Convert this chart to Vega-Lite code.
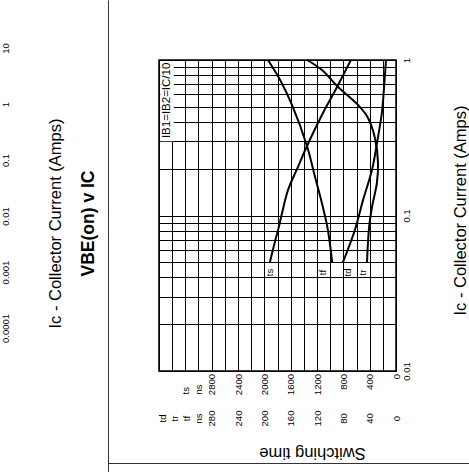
{
  "$schema": "https://vega.github.io/schema/vega-lite/v6.json",
  "width": 237,
  "height": 311,
  "autosize": {"type": "none"},
  "padding": {"left": 159, "top": 60, "right": 73, "bottom": 101},
  "background": "white",
  "config": {
    "font": "Liberation Sans",
    "view": {"stroke": "black", "strokeWidth": 1.5},
    "axis": {"labelFlush": false, "labelOverlap": false, "labelBound": false, "labelColor": "black", "titleColor": "black", "labelFont": "Liberation Sans", "titleFont": "Liberation Sans"}
  },
  "datasets": {
    "curves": [
      {"series": "ts", "Ic": 1, "t": 685},
      {"series": "ts", "Ic": 0.671, "t": 895},
      {"series": "ts", "Ic": 0.443, "t": 1125},
      {"series": "ts", "Ic": 0.28, "t": 1352},
      {"series": "ts", "Ic": 0.205, "t": 1490},
      {"series": "ts", "Ic": 0.146, "t": 1640},
      {"series": "ts", "Ic": 0.104, "t": 1730},
      {"series": "ts", "Ic": 0.081, "t": 1790},
      {"series": "ts", "Ic": 0.0676, "t": 1840},
      {"series": "ts", "Ic": 0.0502, "t": 1915},
      {"series": "tf", "Ic": 1, "t": 1945},
      {"series": "tf", "Ic": 0.744, "t": 1760},
      {"series": "tf", "Ic": 0.514, "t": 1580},
      {"series": "tf", "Ic": 0.28, "t": 1352},
      {"series": "tf", "Ic": 0.177, "t": 1230},
      {"series": "tf", "Ic": 0.12, "t": 1125},
      {"series": "tf", "Ic": 0.081, "t": 1035},
      {"series": "tf", "Ic": 0.0502, "t": 970},
      {"series": "tr", "Ic": 1, "t": 1350},
      {"series": "tr", "Ic": 0.862, "t": 1125},
      {"series": "tr", "Ic": 0.671, "t": 880},
      {"series": "tr", "Ic": 0.514, "t": 577},
      {"series": "tr", "Ic": 0.424, "t": 425},
      {"series": "tr", "Ic": 0.315, "t": 320},
      {"series": "tr", "Ic": 0.218, "t": 273},
      {"series": "tr", "Ic": 0.162, "t": 290},
      {"series": "tr", "Ic": 0.113, "t": 365},
      {"series": "tr", "Ic": 0.083, "t": 410},
      {"series": "tr", "Ic": 0.0502, "t": 440},
      {"series": "td", "Ic": 1, "t": 152},
      {"series": "td", "Ic": 0.661, "t": 182},
      {"series": "td", "Ic": 0.463, "t": 213},
      {"series": "td", "Ic": 0.292, "t": 289},
      {"series": "td", "Ic": 0.196, "t": 365},
      {"series": "td", "Ic": 0.126, "t": 500},
      {"series": "td", "Ic": 0.081, "t": 623},
      {"series": "td", "Ic": 0.0502, "t": 805}
    ],
    "labels": [
      {"text": "ts", "t": 1915, "Ic": 0.043},
      {"text": "tf", "t": 1110, "Ic": 0.043},
      {"text": "td", "t": 730, "Ic": 0.043},
      {"text": "tr", "t": 500, "Ic": 0.043}
    ],
    "note": [
      {"text": "IB1=IB2=IC/10", "t": 3480, "Ic": 0.55, "t_left": 3580, "t_right": 3375, "Ic_top": 0.985, "Ic_bottom": 0.3}
    ]
  },
  "layer": [
    {
      "data": {"name": "note"},
      "mark": {"type": "rect", "fill": "white", "strokeWidth": 0},
      "encoding": {
        "x": {"field": "t_left", "type": "quantitative", "scale": {"domain": [0, 3600], "reverse": true, "nice": false, "zero": false}, "axis": null},
        "x2": {"field": "t_right"},
        "y": {"field": "Ic_top", "type": "quantitative", "scale": {"type": "log", "domain": [0.01, 1], "nice": false}, "axis": null},
        "y2": {"field": "Ic_bottom"}
      }
    },
    {
      "data": {"name": "note"},
      "mark": {"type": "text", "angle": 270, "fontSize": 11.5, "align": "center", "baseline": "middle", "color": "black"},
      "encoding": {
        "x": {"field": "t", "type": "quantitative", "scale": {"domain": [0, 3600], "reverse": true, "nice": false, "zero": false}, "axis": null},
        "y": {"field": "Ic", "type": "quantitative", "scale": {"type": "log", "domain": [0.01, 1], "nice": false}, "axis": null},
        "text": {"field": "text"}
      }
    },
    {
      "data": {"name": "curves"},
      "mark": {"type": "line", "color": "black", "strokeWidth": 2, "interpolate": "catmull-rom"},
      "encoding": {
        "x": {"field": "t", "type": "quantitative", "scale": {"domain": [0, 3600], "reverse": true, "nice": false, "zero": false},
          "axis": {"orient": "bottom", "values": [0, 200, 400, 600, 800, 1000, 1200, 1400, 1600, 1800, 2000, 2200, 2400, 2600, 2800, 3000, 3200, 3400, 3600],
            "grid": true, "gridColor": "black", "gridWidth": 1, "gridOpacity": 1, "ticks": false, "tickSize": 0, "domain": false,
            "labelAngle": 270,
            "labelAlign": {"condition": {"test": "datum.value >= 2900 && datum.value <= 3300", "value": "left"}, "value": "right"},
            "labelPadding": {"condition": {"test": "datum.value >= 2900 && datum.value <= 3300", "value": 23}, "value": 2.5},
            "labelBaseline": "middle", "labelFontSize": 9.5,
            "labelExpr": "datum.value == 3200 ? 'ts' : datum.value == 3000 ? 'ns' : (datum.value <= 2800 && datum.value % 400 == 0) ? format(datum.value, 'd') : ''",
            "title": null}},
        "y": {"field": "Ic", "type": "quantitative", "scale": {"type": "log", "domain": [0.01, 1], "nice": false},
          "axis": {"orient": "right", "values": [0.01, 0.02, 0.03, 0.04, 0.05, 0.06, 0.07, 0.08, 0.09, 0.1, 0.2, 0.3, 0.4, 0.5, 0.6, 0.7, 0.8, 0.9, 1],
            "grid": true, "gridColor": "black", "gridWidth": 1, "gridOpacity": 1, "ticks": false, "tickSize": 0, "domain": false,
            "labelAngle": 270, "labelAlign": "center", "labelBaseline": "top", "labelPadding": 5, "labelFontSize": 9.5,
            "labelExpr": "datum.value == 1 ? '1' : datum.value == 0.1 ? '0.1' : datum.value == 0.01 ? '0.01' : ''",
            "title": "Ic - Collector Current (Amps)", "titleAngle": 270, "titleFontSize": 16.5, "titleFontWeight": "normal",
            "titleX": 64, "titleY": 150, "titleAlign": "center", "titleBaseline": "middle"}},
        "detail": {"field": "series", "type": "nominal"},
        "order": {"field": "Ic", "type": "quantitative"}
      }
    },
    {
      "data": {"name": "labels"},
      "mark": {"type": "text", "angle": 270, "fontSize": 9.5, "align": "center", "baseline": "middle", "color": "black"},
      "encoding": {
        "x": {"field": "t", "type": "quantitative", "scale": {"domain": [0, 3600], "reverse": true, "nice": false, "zero": false},
          "axis": {"orient": "bottom", "values": [0, 400, 800, 1200, 1600, 2000, 2400, 2800, 3000, 3180, 3360, 3540],
            "grid": false, "ticks": false, "tickSize": 0, "domain": false,
            "labelAngle": 270, "labelAlign": "center", "labelBaseline": "middle", "labelPadding": 47, "labelFontSize": 9.5,
            "labelExpr": "datum.value == 3000 ? 'ns' : datum.value == 3180 ? 'tf' : datum.value == 3360 ? 'tr' : datum.value == 3540 ? 'td' : format(datum.value / 10, 'd')",
            "title": "Switching time", "titleAngle": 180, "titleFontSize": 16.5, "titleFontWeight": "normal",
            "titleX": 153, "titleY": 81, "titleAlign": "center", "titleBaseline": "middle"}},
        "y": {"field": "Ic", "type": "quantitative", "scale": {"type": "log", "domain": [0.01, 1], "nice": false}, "axis": null},
        "text": {"field": "text"}
      }
    },
    {
      "data": {"name": "curves"},
      "mark": {"type": "point", "opacity": 0},
      "encoding": {
        "y": {"field": "Ic", "type": "quantitative", "scale": {"type": "log", "domain": [0.0001, 10], "range": [268, -12], "nice": false},
          "axis": {"orient": "left", "offset": 149, "values": [0.0001, 0.001, 0.01, 0.1, 1, 10],
            "grid": false, "ticks": false, "tickSize": 0, "domain": false,
            "labelAngle": 270, "labelAlign": "center", "labelBaseline": "bottom", "labelPadding": 0, "labelFontSize": 9.5,
            "labelExpr": "datum.value < 0.0005 ? '0.0001' : datum.value < 0.005 ? '0.001' : datum.value < 0.05 ? '0.01' : datum.value < 0.5 ? '0.1' : datum.value < 5 ? '1' : '10'",
            "title": "Ic - Collector Current (Amps)", "titleAngle": 270, "titleFontSize": 16.5, "titleFontWeight": "normal",
            "titleX": 45, "titleY": 163, "titleAlign": "center", "titleBaseline": "middle"}}
      }
    },
    {
      "data": {"name": "curves"},
      "mark": {"type": "point", "opacity": 0},
      "encoding": {
        "x": {"field": "t", "type": "quantitative", "scale": {"domain": [0, 3600], "range": [-51, 310], "nice": false, "zero": false},
          "axis": {"orient": "bottom", "offset": 92, "domain": true, "domainColor": "#333333", "domainWidth": 1, "labels": false, "ticks": false, "grid": false, "title": null}},
        "y": {"field": "Ic", "type": "quantitative", "scale": {"type": "log", "domain": [0.01, 1], "range": [412, -60], "nice": false},
          "axis": {"orient": "left", "offset": 51, "domain": true, "domainColor": "#333333", "domainWidth": 1, "labels": false, "ticks": false, "grid": false,
            "title": "VBE(on) v IC", "titleAngle": 270, "titleFontSize": 17.5, "titleFontWeight": "bold",
            "titleX": -20, "titleY": 163, "titleAlign": "center", "titleBaseline": "middle"}}
      }
    }
  ],
  "resolve": {"scale": {"x": "independent", "y": "independent"}}
}
